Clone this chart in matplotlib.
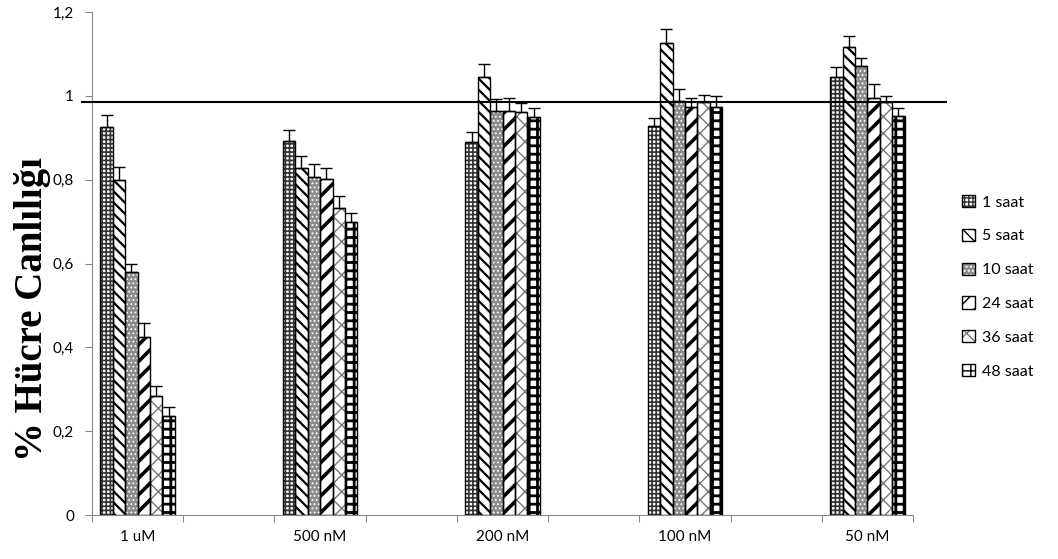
import matplotlib
matplotlib.use("Agg")
import matplotlib.pyplot as plt
import numpy as np

# data
groups = ["1 uM", "500 nM", "200 nM", "100 nM", "50 nM"]
series = ["1 saat", "5 saat", "10 saat", "24 saat", "36 saat", "48 saat"]

saat1 = [0.926, 0.893, 0.890, 0.928, 1.045]
saat5 = [0.799, 0.828, 1.045, 1.126, 1.117]
saat10 = [0.580, 0.807, 0.964, 0.988, 1.072]
saat24 = [0.425, 0.802, 0.964, 0.974, 0.995]
saat36 = [0.285, 0.733, 0.962, 0.986, 0.986]
saat48 = [0.236, 0.699, 0.950, 0.974, 0.952]

err1 = [0.029, 0.025, 0.024, 0.019, 0.024]
err5 = [0.031, 0.028, 0.031, 0.034, 0.026]
err10 = [0.020, 0.030, 0.029, 0.029, 0.019]
err24 = [0.032, 0.026, 0.031, 0.021, 0.034]
err36 = [0.022, 0.028, 0.021, 0.016, 0.014]
err48 = [0.021, 0.022, 0.021, 0.026, 0.019]

reference_line = 0.985

values = [saat1, saat5, saat10, saat24, saat36, saat48]
errors = [err1, err5, err10, err24, err36, err48]

# style per series: facecolor, hatch, hatch colour, hatch linewidth
styles = [
    ("white", "++++", "#333333", 1.2),
    ("white", "\\\\\\", "black", 1.6),
    ("#8c8c8c", "....", "white", 0.8),
    ("white", "//", "black", 2.6),
    ("white", "xx", "#777777", 1.0),
    ("white", "++", "black", 2.0),
]

plt.rcParams["font.family"] = ["Lato", "DejaVu Sans"]

fig = plt.figure(figsize=(10.58, 5.59), dpi=100)
ax = fig.add_axes([0.087, 0.0787, 0.776, 0.8998])

x = np.arange(len(groups))
w = 0.068
handles = []
for i, (vals, errs) in enumerate(zip(values, errors)):
    fc, hatch, hc, hlw = styles[i]
    pos = x + (i - 2.5) * w
    with plt.rc_context({"hatch.linewidth": hlw}):
        fill = ax.bar(pos, vals, width=w, color=fc, edgecolor=hc,
                      hatch=hatch, linewidth=0, zorder=2)
    outline = ax.bar(pos, vals, width=w, fill=False, edgecolor="black",
                     linewidth=1.0, zorder=2.5)
    ax.errorbar(pos, vals, yerr=[np.zeros(len(errs)), errs], fmt="none",
                ecolor="black", elinewidth=1.0, capsize=4.5, capthick=1.0,
                zorder=3)
    handles.append((fill[0], outline[0]))

ax.plot([-0.306, 4.43], [reference_line, reference_line], color="black",
        linewidth=1.5, clip_on=False, zorder=4)

ax.set_xlim(-0.25, 4.25)
ax.set_ylim(0, 1.2)
ax.set_xticks(np.arange(-0.25, 4.3, 0.5))
ax.set_xticklabels([])
ax.set_xticks(x, minor=True)
ax.set_xticklabels(groups, minor=True, fontsize=11)
ax.tick_params(axis="x", which="minor", length=0, pad=11)
ax.tick_params(axis="x", which="major", length=5, color="#888888",
               direction="out")

ax.set_yticks([0, 0.2, 0.4, 0.6, 0.8, 1.0, 1.2])
ax.set_yticklabels(["0", "0,2", "0,4", "0,6", "0,8", "1", "1,2"], fontsize=11)
ax.tick_params(axis="y", length=5, color="#888888", direction="out", pad=8)

for s in ["top", "right"]:
    ax.spines[s].set_visible(False)
ax.spines["left"].set_color("#888888")
ax.spines["bottom"].set_color("#888888")

ax.set_ylabel("% Hücre Canlılığı", fontsize=28, fontweight="bold",
              family="Liberation Serif")
ax.yaxis.set_label_coords(-0.05, 0.41)

leg = fig.legend(handles=handles, labels=series, loc="center left",
                 bbox_to_anchor=(0.896, 0.487), frameon=False, fontsize=11.5,
                 handlelength=0.8, handleheight=0.8, labelspacing=1.2,
                 handletextpad=0.4)

fig.savefig("out.png", dpi=100)
